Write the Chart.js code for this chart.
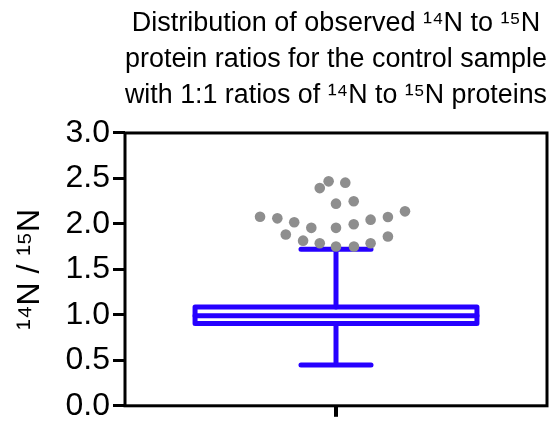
<!DOCTYPE html>
<html>
<head>
<meta charset="utf-8">
<script src="https://cdn.jsdelivr.net/npm/chart.js@4/dist/chart.umd.min.js"></script>
<style>
    html, body { margin: 0; padding: 0; background: #fff; }
    #wrap { width: 554px; height: 428px; }
</style>
</head>
<body>
<div id="wrap"><canvas id="boxChart"></canvas></div>
<script>
// Box plot summary: [min, q1, median, q3, max] (whiskers drawn to min/max)
const statNames = ['min', 'q1', 'median', 'q3', 'max'];
const boxStats = [0.45, 0.906, 0.99, 1.087, 1.722];

// Outliers above the upper whisker, with their swarm offsets
const outlierValues = [2.079, 2.061, 2.018, 1.957, 1.883, 1.816, 1.787, 1.752, 1.752, 1.787, 1.862,
    1.957, 1.997, 2.047, 2.076, 2.138, 2.223, 2.249, 2.394, 2.468, 2.454];
const outlierOffsets = [-0.36, -0.278, -0.198, -0.117, -0.238, -0.156, -0.077, 0, 0.085, 0.164, 0.246,
    0, 0.084, 0.164, 0.246, 0.327, 0, 0.084, -0.077, -0.035, 0.044];

const yTickValues = [0, 0.5, 1.0, 1.5, 2.0, 2.5, 3.0];

const titleLines = [
    'Distribution of observed \u00B9\u2074N to \u00B9\u2075N',
    'protein ratios for the control sample',
    'with 1:1 ratios of \u00B9\u2074N to \u00B9\u2075N proteins'
];
const yTitle = '\u00B9\u2074N / \u00B9\u2075N';

const BOX_HALF = 0.668;
const CAP_HALF = 0.166;
const BLUE = '#2600ff';
const GREY = '#8e8e8e';
const FONT = "'Liberation Sans', Arial, Helvetica, sans-serif";

const stat = Object.fromEntries(statNames.map((n, i) => [n, boxStats[i]]));

const outlierPoints = outlierValues.map((v, i) => ({ x: outlierOffsets[i], y: v }));

const boxOutline = [
    { x: -BOX_HALF, y: stat.q1 }, { x: BOX_HALF, y: stat.q1 },
    { x: BOX_HALF, y: stat.q3 }, { x: -BOX_HALF, y: stat.q3 },
    { x: -BOX_HALF, y: stat.q1 }
];
const medianLine = [{ x: -BOX_HALF, y: stat.median }, { x: BOX_HALF, y: stat.median }];
const upperWhisker = [
    { x: -CAP_HALF, y: stat.max }, { x: CAP_HALF, y: stat.max },
    { x: 0, y: stat.max }, { x: 0, y: stat.q3 }
];
const lowerWhisker = [
    { x: -CAP_HALF, y: stat.min }, { x: CAP_HALF, y: stat.min },
    { x: 0, y: stat.min }, { x: 0, y: stat.q1 }
];

function lineSet(points) {
    return {
        type: 'scatter',
        data: points,
        showLine: true,
        borderColor: BLUE,
        borderWidth: 5,
        borderJoinStyle: 'round',
        borderCapStyle: 'round',
        pointRadius: 0,
        fill: false,
        tension: 0
    };
}

const framePlugin = {
    id: 'frame',
    afterDatasetsDraw(chart) {
        const { ctx, chartArea: a } = chart;
        ctx.save();
        ctx.strokeStyle = '#000';
        ctx.lineWidth = 3;
        ctx.strokeRect(a.left, a.top, a.right - a.left, a.bottom - a.top);
        ctx.restore();
    }
};

new Chart(document.getElementById('boxChart'), {
    type: 'scatter',
    data: {
        datasets: [
            {
                data: outlierPoints,
                pointRadius: 5.3,
                pointBackgroundColor: GREY,
                pointBorderWidth: 0,
                pointHoverRadius: 5.3
            },
            lineSet(upperWhisker),
            lineSet(lowerWhisker),
            lineSet(medianLine),
            lineSet(boxOutline)
        ]
    },
    options: {
        responsive: true,
        maintainAspectRatio: false,
        animation: false,
        layout: { padding: { left: 0, right: 7, top: 0, bottom: 0 } },
        plugins: {
            legend: { display: false },
            tooltip: { enabled: false },
            title: {
                display: true,
                fullSize: false,
                text: titleLines,
                color: '#000',
                font: { family: FONT, size: 27, weight: 'normal', lineHeight: 1.333 },
                padding: { top: 6, bottom: 19 }
            }
        },
        scales: {
            x: {
                type: 'linear',
                min: -1,
                max: 1,
                afterBuildTicks: scale => { scale.ticks = [{ value: 0 }]; },
                afterFit: scale => { scale.height = 13; },
                ticks: { display: false },
                border: { display: false },
                grid: {
                    drawOnChartArea: false,
                    drawTicks: true,
                    tickLength: 11,
                    color: '#000',
                    lineWidth: 4
                }
            },
            y: {
                min: 0,
                max: 3,
                afterBuildTicks: scale => { scale.ticks = yTickValues.map(v => ({ value: v })); },
                afterFit: scale => { scale.width = 125; },
                ticks: {
                    color: '#000',
                    padding: 3,
                    font: { family: FONT, size: 32 },
                    callback: v => v.toFixed(1)
                },
                border: { display: false },
                grid: {
                    drawOnChartArea: false,
                    drawTicks: true,
                    tickLength: 12,
                    color: '#000',
                    lineWidth: 3
                },
                title: {
                    display: true,
                    text: yTitle,
                    color: '#000',
                    font: { family: FONT, size: 32 },
                    padding: { top: 11, bottom: 0 }
                }
            }
        }
    },
    plugins: [framePlugin]
});
</script>
</body>
</html>
